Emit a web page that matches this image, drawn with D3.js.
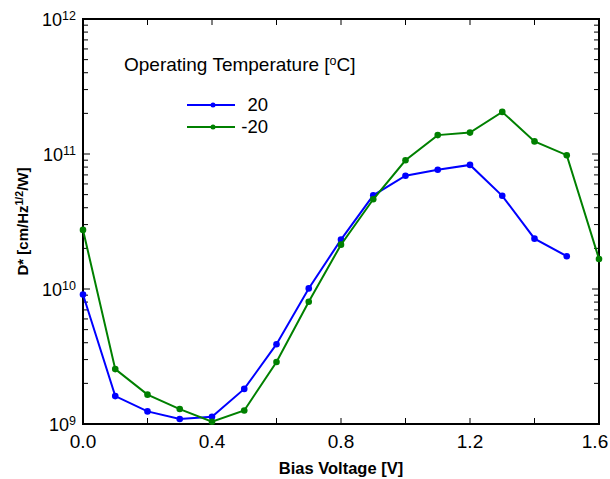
<!DOCTYPE html>
<html>
<head>
<meta charset="utf-8">
<script src="https://cdn.jsdelivr.net/npm/d3@7"></script>
<style>
  body { margin: 0; background: #fff; }
  text { font-family: "Liberation Sans", Arial, sans-serif; }
</style>
</head>
<body>
<svg id="chart" width="610" height="479"></svg>
<script>
// data
const voltage = [0.0, 0.1, 0.2, 0.3, 0.4, 0.5, 0.6, 0.7, 0.8, 0.9, 1.0, 1.1, 1.2, 1.3, 1.4, 1.5, 1.6];
const dStar20 = [9.1e9, 1.61e9, 1.24e9, 1.09e9, 1.13e9, 1.82e9, 3.9e9, 1.01e10, 2.32e10, 4.94e10, 6.9e10, 7.65e10, 8.3e10, 4.9e10, 2.36e10, 1.75e10];
const dStarM20 = [2.74e10, 2.55e9, 1.65e9, 1.29e9, 1.04e9, 1.26e9, 2.88e9, 8.05e9, 2.13e10, 4.62e10, 8.98e10, 1.38e11, 1.44e11, 2.05e11, 1.24e11, 9.8e10, 1.67e10];
const seriesNames = ["20", "-20"];
const xTickLabels = [0.0, 0.4, 0.8, 1.2, 1.6];
const yDecades = [9, 10, 11, 12];

const svg = d3.select("#chart");
const margin = { left: 83, right: 11, top: 19, bottom: 55 };
const width = 610 - margin.left - margin.right;
const height = 479 - margin.top - margin.bottom;
const g = svg.append("g").attr("transform", `translate(${margin.left},${margin.top})`);

const x = d3.scaleLinear().domain([0, 1.6]).range([0, width]);
const y = d3.scaleLog().domain([1e9, 1e12]).range([height, 0]);

// minor + major ticks for log axis
let yTicks = [];
yDecades.forEach(p => {
  for (let m = 1; m < 10; m++) {
    if (p === 12 && m > 1) break;
    yTicks.push(m * Math.pow(10, p));
  }
});
const xTicks = d3.range(0, 1.61, 0.2);

// tick marks (inward on all four sides)
const tickG = g.append("g").attr("stroke", "#000").attr("stroke-width", 1);
yTicks.forEach(v => {
  const major = Math.abs(Math.log10(v) - Math.round(Math.log10(v))) < 1e-9;
  const len = major ? 7 : 5;
  tickG.append("line").attr("x1", 0).attr("x2", len).attr("y1", y(v)).attr("y2", y(v));
  tickG.append("line").attr("x1", width).attr("x2", width - len).attr("y1", y(v)).attr("y2", y(v));
});
xTicks.forEach(v => {
  tickG.append("line").attr("x1", x(v)).attr("x2", x(v)).attr("y1", height).attr("y2", height - 6);
  tickG.append("line").attr("x1", x(v)).attr("x2", x(v)).attr("y1", 0).attr("y2", 6);
});

// frame
g.append("rect").attr("width", width).attr("height", height)
  .attr("fill", "none").attr("stroke", "#000").attr("stroke-width", 2);

// x tick labels (last one nudged so it stays inside the page)
g.selectAll(".xlab").data(xTickLabels).enter().append("text")
  .attr("x", d => Math.min(x(d), 610 - margin.left - 15))
  .attr("y", height + 24)
  .attr("text-anchor", "middle").attr("font-size", 19)
  .text(d => d3.format(".1f")(d));

// y tick labels 10^n
yDecades.forEach(p => {
  const t = g.append("text").attr("x", -7).attr("y", y(Math.pow(10, p)) + 7)
    .attr("text-anchor", "end").attr("font-size", 18);
  t.append("tspan").text("10");
  t.append("tspan").attr("font-size", 12.5).attr("dy", -6).text(p);
});

// axis titles
g.append("text").attr("x", width / 2).attr("y", height + 50)
  .attr("text-anchor", "middle").attr("font-size", 16.5).attr("font-weight", "bold")
  .text("Bias Voltage [V]");
const yt = svg.append("text")
  .attr("transform", `translate(28,${margin.top + height / 2}) rotate(-90)`)
  .attr("text-anchor", "middle").attr("font-size", 15).attr("font-weight", "bold");
yt.append("tspan").text("D* [cm/Hz");
yt.append("tspan").attr("font-size", 10.5).attr("dy", -5).text("1/2");
yt.append("tspan").attr("dy", 5).text("/W]");

// series
const colors = ["#0000ff", "#008000"];
const series = [dStar20, dStarM20];
const line = d3.line().x((d, i) => x(voltage[i])).y(d => y(d));
series.forEach((s, k) => {
  g.append("path").datum(s).attr("d", line)
    .attr("fill", "none").attr("stroke", colors[k]).attr("stroke-width", 2);
  g.selectAll(".pt" + k).data(s).enter().append("circle")
    .attr("cx", (d, i) => x(voltage[i])).attr("cy", d => y(d))
    .attr("r", 3.3).attr("fill", colors[k]);
});

// legend
const lt = svg.append("text").attr("x", 124).attr("y", 71).attr("font-size", 19);
lt.append("tspan").text("Operating Temperature [");
lt.append("tspan").attr("font-size", 12.5).attr("dy", -6).text("o");
lt.append("tspan").attr("dy", 6).text("C]");
seriesNames.forEach((name, k) => {
  const ly = 105 + k * 22;
  svg.append("line").attr("x1", 187).attr("x2", 235).attr("y1", ly).attr("y2", ly)
    .attr("stroke", colors[k]).attr("stroke-width", 2);
  svg.append("circle").attr("cx", 213).attr("cy", ly).attr("r", 2.5).attr("fill", colors[k]);
  svg.append("text").attr("x", 268).attr("y", ly + 6).attr("text-anchor", "end")
    .attr("font-size", 18.5).text(name);
});
</script>
</body>
</html>
